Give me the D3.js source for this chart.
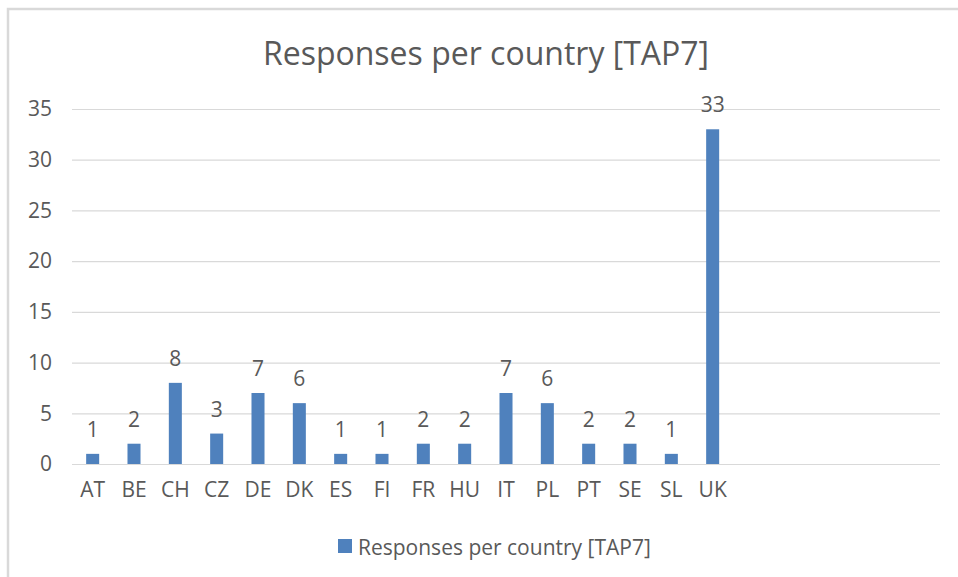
<!DOCTYPE html>
<html>
<head>
<meta charset="utf-8">
<script src="https://cdn.jsdelivr.net/npm/d3@7"></script>
<style>
  html, body { margin: 0; padding: 0; background: #ffffff; }
  svg { display: block; }
  text { font-family: "Open Sans", "Noto Sans", "DejaVu Sans", sans-serif; fill: #595959; }
</style>
</head>
<body>
<svg id="chart" width="958" height="577"></svg>
<script>
// Survey responses per country
const categories = ["AT", "BE", "CH", "CZ", "DE", "DK", "ES", "FI", "FR", "HU", "IT", "PL", "PT", "SE", "SL", "UK"];
const responses  = [1, 2, 8, 3, 7, 6, 1, 1, 2, 2, 7, 6, 2, 2, 1, 33];
const yTicks     = [0, 5, 10, 15, 20, 25, 30, 35];
const seriesName = "Responses per country [TAP7]";
const chartTitle = "Responses per country [TAP7]";
// the category axis reserves room for a few more (unused) rows
const emptySlots = 5;

const svg = d3.select("#chart");
const W = 958, H = 577;
const plot = { left: 72, right: 940, top: 109, bottom: 464 };
const labelFont = "'Open Sans', 'Noto Sans', sans-serif";

// chart frame (top and left edges fall inside the page)
svg.append("rect")
  .attr("x", 8).attr("y", 9)
  .attr("width", W + 20).attr("height", H + 20)
  .attr("fill", "#ffffff")
  .attr("stroke", "#d9d9d9")
  .attr("stroke-width", 2.5);

const slots = categories.concat(d3.range(emptySlots).map(i => "_" + i));

const x = d3.scaleBand()
  .domain(slots)
  .range([plot.left, plot.right])
  .paddingInner(0.685)
  .paddingOuter(0.3425);

const y = d3.scaleLinear()
  .domain([0, 35])
  .range([plot.bottom, plot.top]);

// horizontal gridlines + value labels
const yAxis = d3.axisLeft(y)
  .tickValues(yTicks)
  .tickSize(-(plot.right - plot.left))
  .tickPadding(20);

const gy = svg.append("g")
  .attr("transform", `translate(${plot.left},0)`)
  .call(yAxis);
gy.select(".domain").remove();
gy.selectAll(".tick line").attr("stroke", "#d9d9d9").attr("stroke-width", 1.2);
gy.selectAll(".tick text")
  .attr("font-size", 21)
  .attr("fill", "#595959")
  .style("font-family", labelFont);

// category labels
const xAxis = d3.axisBottom(x)
  .tickSize(0)
  .tickPadding(18)
  .tickFormat(d => d.startsWith("_") ? "" : d);

const gx = svg.append("g")
  .attr("transform", `translate(0,${plot.bottom})`)
  .call(xAxis);
gx.select(".domain").remove();
gx.selectAll(".tick text")
  .attr("font-size", 21)
  .attr("fill", "#595959")
  .style("font-family", labelFont);

const data = categories.map((c, i) => ({ c, v: responses[i] }));

// bars
svg.append("g")
  .selectAll("rect")
  .data(data)
  .join("rect")
  .attr("x", d => x(d.c))
  .attr("y", d => y(d.v))
  .attr("width", x.bandwidth())
  .attr("height", d => y(0) - y(d.v))
  .attr("fill", "#4f81bd");

// value labels
svg.append("g")
  .selectAll("text")
  .data(data)
  .join("text")
  .attr("x", d => x(d.c) + x.bandwidth() / 2)
  .attr("y", d => y(d.v) - 17)
  .attr("text-anchor", "middle")
  .attr("font-size", 21)
  .text(d => d.v);

// title
svg.append("text")
  .attr("x", 486)
  .attr("y", 65)
  .attr("text-anchor", "middle")
  .attr("font-size", 32)
  .text(chartTitle);

// legend
const lg = svg.append("g").attr("transform", "translate(338,539)");
lg.append("rect").attr("width", 14).attr("height", 14).attr("fill", "#4f81bd");
lg.append("text")
  .attr("x", 20).attr("y", 16)
  .attr("font-size", 21)
  .text(seriesName);
</script>
</body>
</html>
